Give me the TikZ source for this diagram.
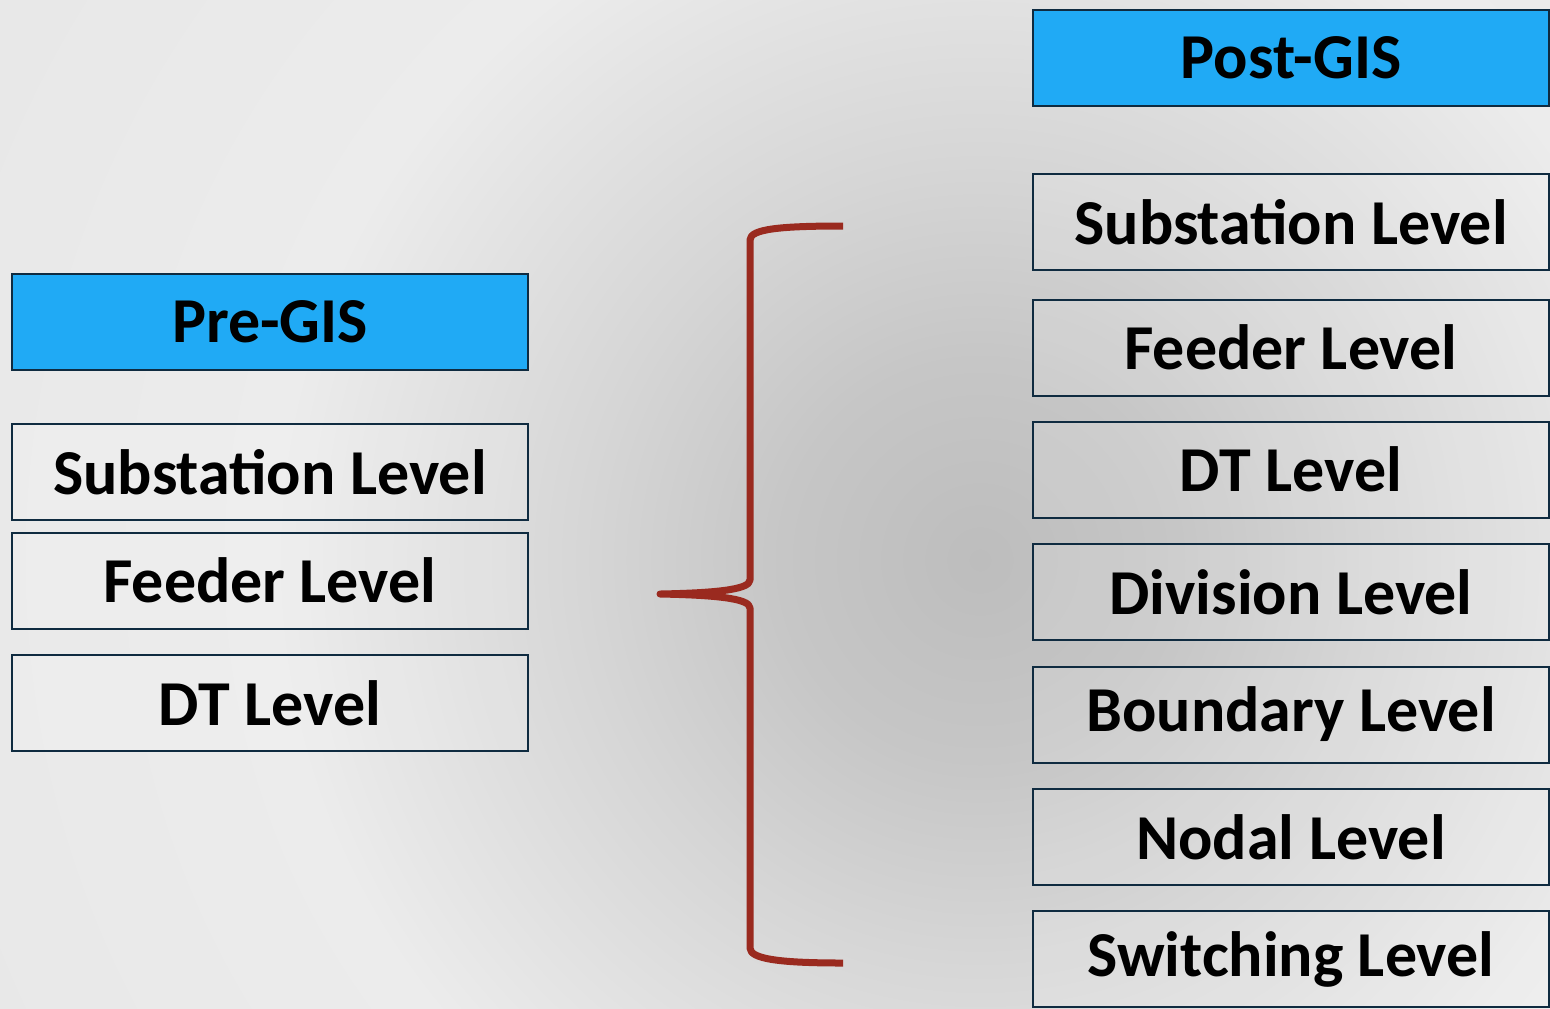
\documentclass[tikz,border=0pt]{standalone}
\usepackage{fontspec}
\setmainfont{Carlito}
\definecolor{boxblue}{HTML}{20AAF5}
\definecolor{boxline}{HTML}{0F2B40}
\definecolor{bracered}{HTML}{9A2A1F}
\definecolor{bgA}{HTML}{BDBDBD}
\definecolor{bgB}{HTML}{C6C6C6}
\definecolor{bgC}{HTML}{D6D6D6}
\definecolor{bgD}{HTML}{ECECEC}
\definecolor{bgE}{HTML}{E8E8E8}
\pgfdeclareradialshading{bgshade}{\pgfpoint{0bp}{0bp}}{color(0bp)=(bgA); color(9bp)=(bgB); color(18bp)=(bgC); color(32bp)=(bgD); color(50bp)=(bgE)}
\tikzset{
  lvl/.style={draw=boxline, line width=1pt, fill=white, fill opacity=0.15, text opacity=1,
    minimum width=258pt, minimum height=48pt, inner sep=0pt,
    font=\fontsize{32}{38}\selectfont\bfseries, text=black},
  head/.style={lvl, fill=boxblue, fill opacity=1},
  brace/.style={draw=bracered, line width=3.5pt, line cap=butt, line join=round}
}
\begin{document}
\begin{tikzpicture}[x=0.5pt, y=-0.5pt]
\useasboundingbox (0,0) rectangle (1550,1008);
\begin{scope}
\clip (0,0) rectangle (1550,1008);
\fill[bgE] (0,0) rectangle (1550,1008);
\pgftransformshift{\pgfpointxy{980}{560}}
\pgftransformscale{11}
\pgflowlevelsynccm
\pgftext{\pgfuseshading{bgshade}}
\end{scope}
% left column
\node[head] (pre) at (270,321.5) {Pre-GIS};
\node[lvl] (lsub) at (270,472) {Substation Level};
\node[lvl] (lfeed) at (270,580.5) {Feeder Level};
\node[lvl] (ldt) at (270,703) {DT Level};
% right column
\node[head] (post) at (1291,58) {Post-GIS};
\node[lvl] (rsub) at (1291,222) {Substation Level};
\node[lvl] (rfeed) at (1291,347.5) {Feeder Level};
\node[lvl] (rdt) at (1291,469.5) {DT Level};
\node[lvl] (rdiv) at (1291,592) {Division Level};
\node[lvl] (rbound) at (1291,714.5) {Boundary Level};
\node[lvl] (rnodal) at (1291,837) {Nodal Level};
\node[lvl] (rswitch) at (1291,959) {Switching Level};
% brace
\coordinate (btop) at (843,226);
\coordinate (btip) at (660,594);
\coordinate (bbot) at (843,963);
\draw[brace] (btop) .. controls (780,226) and (750,229) .. (750,240)
  -- (750,580) .. controls (750,590) and (712,593) .. (btip)
  .. controls (712,595) and (750,598) .. (750,608)
  -- (750,948) .. controls (750,959) and (780,963) .. (bbot);
\end{tikzpicture}
\end{document}
